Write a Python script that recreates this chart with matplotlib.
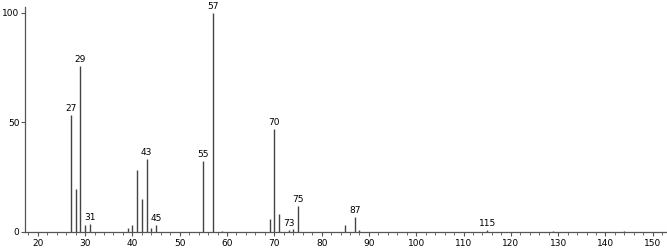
#Mass spectrum bar plot (m/z vs relative abundance)

import matplotlib
matplotlib.use("Agg")
import matplotlib.pyplot as plt
from matplotlib.ticker import MultipleLocator

# peak list
mz = [27, 28, 29, 30, 31, 39, 40, 41, 42, 43, 44, 45, 55, 57, 59,
      69, 70, 71, 73, 74, 75, 85, 87, 88, 115, 129, 144]
abund = [53.5, 19.5, 75.6, 3.0, 3.7, 2.0, 3.0, 28.4, 15.2, 33.5, 2.0, 3.0, 32.4, 100.0, 0.5,
         6.1, 47.0, 8.1, 1.0, 1.2, 11.9, 3.0, 7.0, 1.0, 1.0, 0.4, 0.4]
labelled = [27, 29, 31, 43, 45, 55, 57, 70, 73, 75, 87, 115]

xticks = [20, 30, 40, 50, 60, 70, 80, 90, 100, 110, 120, 130, 140, 150]
yticks = [0, 50, 100]

fig = plt.figure(figsize=(6.67, 2.49), dpi=100)
ax = fig.add_axes([0.0375, 0.0683, 0.9625, 0.9036])

ax.vlines(mz, 0, abund, colors="#444444", linewidth=1.0)

for m, a in zip(mz, abund):
    if m in labelled:
        ax.annotate(str(m), (m, a), xytext=(0, 1.5), textcoords="offset points",
                    ha="center", va="bottom", fontsize=6.5, color="black")

ax.set_xlim(17.3, 153.0)
ax.set_ylim(0, 102.7)

for s in ["top", "right"]:
    ax.spines[s].set_visible(False)
ax.spines["left"].set_color("#555555")
ax.spines["bottom"].set_color("#555555")
ax.spines["left"].set_linewidth(0.9)
ax.spines["bottom"].set_linewidth(0.9)

ax.set_xticks(xticks)
ax.xaxis.set_minor_locator(MultipleLocator(2))
ax.set_yticks(yticks)
ax.tick_params(axis="x", which="major", length=3, width=0.8, labelsize=6.5, pad=2, color="#555555")
ax.tick_params(axis="x", which="minor", length=2, width=0.6, color="#555555")
ax.tick_params(axis="y", which="major", length=3, width=0.8, labelsize=6.5, pad=1, color="#555555")

plt.savefig("out.png", dpi=100)
